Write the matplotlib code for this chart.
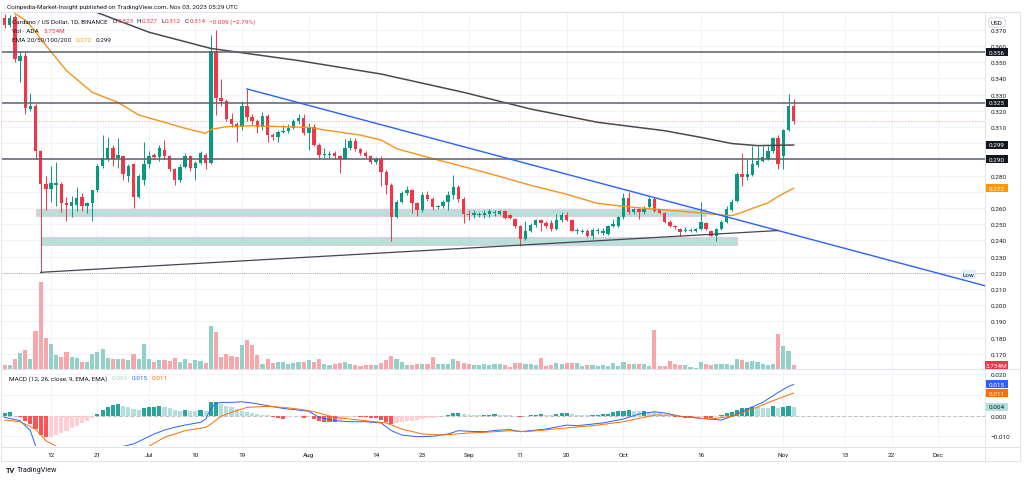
import numpy as np
import pandas as pd
import matplotlib
matplotlib.use("Agg")
import matplotlib.pyplot as plt
import matplotlib.dates as mdates
from matplotlib.patches import Rectangle
from matplotlib.lines import Line2D
from matplotlib.ticker import FixedLocator, FuncFormatter
from matplotlib.transforms import blended_transform_factory

plt.rcParams['font.family'] = ['Roboto', 'DejaVu Sans']

# daily candles (open, high, low, close)
jun_ohlc = [
    (0.377, 0.380, 0.371, 0.373), (0.373, 0.379, 0.372, 0.377), (0.378, 0.379, 0.350, 0.352),
    (0.351, 0.357, 0.338, 0.354), (0.354, 0.356, 0.318, 0.322), (0.321, 0.331, 0.320, 0.323),
    (0.323, 0.324, 0.290, 0.295), (0.295, 0.296, 0.220, 0.275), (0.275, 0.280, 0.259, 0.272),
    (0.272, 0.286, 0.264, 0.2755), (0.2745, 0.2886, 0.2614, 0.2755), (0.275, 0.276, 0.2575, 0.263),
    (0.263, 0.267, 0.252, 0.262), (0.261, 0.2675, 0.2545, 0.264), (0.262, 0.273, 0.258, 0.266),
    (0.267, 0.269, 0.258, 0.261), (0.261, 0.264, 0.257, 0.263), (0.263, 0.271, 0.252, 0.271),
    (0.271, 0.287, 0.270, 0.286), (0.286, 0.305, 0.285, 0.291), (0.290, 0.304, 0.289, 0.297),
    (0.297, 0.299, 0.286, 0.290), (0.291, 0.3035, 0.2845, 0.293), (0.292, 0.293, 0.277, 0.281),
    (0.280, 0.287, 0.276, 0.286), (0.287, 0.288, 0.260, 0.267), (0.267, 0.281, 0.266, 0.280),
    (0.2775, 0.301, 0.2745, 0.287),
]
jul_ohlc = [
    (0.287, 0.295, 0.285, 0.292), (0.293, 0.294, 0.290, 0.2915), (0.2915, 0.299, 0.289, 0.297),
    (0.296, 0.302, 0.290, 0.292), (0.292, 0.293, 0.283, 0.284), (0.284, 0.285, 0.274, 0.277),
    (0.277, 0.287, 0.276, 0.2855), (0.2855, 0.294, 0.285, 0.292), (0.292, 0.293, 0.283, 0.285),
    (0.285, 0.289, 0.2775, 0.288), (0.288, 0.295, 0.287, 0.294), (0.293, 0.294, 0.284, 0.288),
    (0.288, 0.367, 0.287, 0.357), (0.357, 0.370, 0.3175, 0.328), (0.328, 0.3395, 0.323, 0.326),
    (0.326, 0.327, 0.314, 0.315), (0.315, 0.3185, 0.310, 0.312), (0.312, 0.313, 0.301, 0.310),
    (0.310, 0.326, 0.308, 0.323), (0.323, 0.3335, 0.314, 0.316), (0.316, 0.318, 0.311, 0.3135),
    (0.3135, 0.315, 0.306, 0.310), (0.310, 0.319, 0.308, 0.317), (0.317, 0.318, 0.301, 0.305),
    (0.305, 0.306, 0.302, 0.304), (0.304, 0.308, 0.301, 0.307), (0.307, 0.3115, 0.306, 0.3075),
    (0.3075, 0.312, 0.306, 0.3095), (0.3095, 0.315, 0.309, 0.3135), (0.3135, 0.318, 0.312, 0.3155),
    (0.3155, 0.318, 0.305, 0.3065),
]
aug_ohlc = [
    (0.3065, 0.3125, 0.2955, 0.3095), (0.310, 0.312, 0.298, 0.299), (0.299, 0.300, 0.290, 0.2925),
    (0.2925, 0.297, 0.291, 0.2935), (0.2925, 0.295, 0.291, 0.2935), (0.294, 0.295, 0.290, 0.292),
    (0.292, 0.293, 0.2815, 0.2905), (0.2905, 0.3025, 0.290, 0.297), (0.297, 0.303, 0.296, 0.3015),
    (0.3015, 0.303, 0.295, 0.2965), (0.2965, 0.297, 0.293, 0.294), (0.294, 0.295, 0.291, 0.292),
    (0.292, 0.293, 0.287, 0.2885), (0.2885, 0.2915, 0.287, 0.2905), (0.2905, 0.292, 0.2738, 0.282),
    (0.282, 0.2835, 0.2685, 0.274), (0.274, 0.2755, 0.2395, 0.2545), (0.2545, 0.265, 0.254, 0.264),
    (0.264, 0.2705, 0.263, 0.2695), (0.2695, 0.2735, 0.268, 0.271), (0.271, 0.272, 0.257, 0.263),
    (0.263, 0.264, 0.255, 0.2585), (0.2585, 0.270, 0.2575, 0.268), (0.268, 0.2705, 0.2645, 0.2655),
    (0.2655, 0.2665, 0.259, 0.2605), (0.2605, 0.262, 0.2595, 0.261), (0.261, 0.265, 0.260, 0.2635),
    (0.2635, 0.2705, 0.259, 0.268), (0.268, 0.2805, 0.2655, 0.273), (0.273, 0.274, 0.264, 0.2655),
    (0.2655, 0.267, 0.2505, 0.2565),
]
sep_ohlc = [
    (0.2565, 0.2585, 0.2525, 0.2555), (0.2555, 0.2585, 0.254, 0.257), (0.2558, 0.2575, 0.2545, 0.2562),
    (0.2555, 0.2585, 0.254, 0.257), (0.256, 0.2595, 0.2545, 0.258), (0.2572, 0.259, 0.255, 0.2578),
    (0.2565, 0.259, 0.2555, 0.258), (0.258, 0.2585, 0.2535, 0.254), (0.2555, 0.2565, 0.2535, 0.254),
    (0.253, 0.254, 0.2475, 0.249), (0.249, 0.2495, 0.2365, 0.241), (0.241, 0.252, 0.2405, 0.246),
    (0.246, 0.251, 0.245, 0.2495), (0.2495, 0.2535, 0.2485, 0.2525), (0.2525, 0.2535, 0.246, 0.2505),
    (0.251, 0.252, 0.2475, 0.249), (0.251, 0.2525, 0.246, 0.247), (0.247, 0.2565, 0.2465, 0.2525),
    (0.2525, 0.2575, 0.2515, 0.2555), (0.2555, 0.2575, 0.252, 0.2525), (0.2525, 0.253, 0.2455, 0.246),
    (0.2458, 0.2475, 0.244, 0.2462), (0.2453, 0.247, 0.2445, 0.2457), (0.246, 0.2468, 0.242, 0.243),
    (0.243, 0.2475, 0.241, 0.2465), (0.2458, 0.2478, 0.244, 0.2462), (0.2445, 0.2475, 0.2435, 0.2455),
    (0.244, 0.2495, 0.2435, 0.249), (0.249, 0.2535, 0.248, 0.2503), (0.249, 0.255, 0.2485, 0.2542),
]
oct_ohlc = [
    (0.2542, 0.2695, 0.2535, 0.266), (0.266, 0.2697, 0.2565, 0.2576), (0.2576, 0.260, 0.256, 0.2593),
    (0.2593, 0.260, 0.2532, 0.2576), (0.2576, 0.261, 0.2565, 0.2593), (0.2604, 0.2666, 0.2595, 0.2656),
    (0.2656, 0.2666, 0.2575, 0.2584), (0.2587, 0.2595, 0.256, 0.2569), (0.2569, 0.2575, 0.251, 0.2515),
    (0.2512, 0.2525, 0.2485, 0.2491), (0.2491, 0.2497, 0.247, 0.2481), (0.247, 0.2478, 0.2429, 0.2454),
    (0.2456, 0.2485, 0.245, 0.2463), (0.2456, 0.2475, 0.245, 0.2467), (0.2458, 0.2478, 0.2452, 0.2469),
    (0.247, 0.2639, 0.2465, 0.2515), (0.2506, 0.2515, 0.2465, 0.247), (0.246, 0.2465, 0.2425, 0.2429),
    (0.2429, 0.2475, 0.2395, 0.247), (0.247, 0.2525, 0.2465, 0.2512), (0.2512, 0.2615, 0.2505, 0.2594),
    (0.259, 0.2655, 0.258, 0.2639), (0.2645, 0.282, 0.2635, 0.281), (0.281, 0.294, 0.2738, 0.279),
    (0.279, 0.2902, 0.2775, 0.281), (0.2806, 0.2985, 0.2795, 0.2872), (0.2867, 0.2985, 0.2855, 0.2892),
    (0.2892, 0.2985, 0.2885, 0.2916), (0.2902, 0.2985, 0.2895, 0.2954), (0.2954, 0.304, 0.294, 0.303),
    (0.303, 0.305, 0.2838, 0.2872),
]
nov_ohlc = [
    (0.2923, 0.3085, 0.2838, 0.3081), (0.3081, 0.3304, 0.3075, 0.3228), (0.323, 0.327, 0.312, 0.314),
]

# volume, in the chart's bar-height units (last bar = 3.754M)
volume = [
    10, 12, 30, 48, 58, 30, 115, 267, 93, 77, 43, 35, 50, 37, 33, 20, 20, 45, 50, 60,
    33, 30, 30, 28, 27, 45, 28, 75,
    28, 20, 25, 25, 22, 33, 20, 28, 18, 27, 22, 18, 132, 113, 37, 45, 40, 35, 72, 87,
    73, 43, 15, 30, 18, 19, 19, 14, 18, 19, 20,
    25, 20, 30, 13, 12, 15, 18, 19, 14, 10, 8, 10, 10, 10, 17, 25, 38, 28, 20, 11,
    10, 14, 13, 14, 37, 13, 13, 15, 28, 22, 18,
    15, 10, 10, 15, 12, 13, 15, 10, 5, 18, 18, 13, 13, 12, 33, 8, 10, 17, 13, 17,
    17, 17, 8, 10, 12, 8, 12, 8, 18, 8,
    20, 15, 15, 15, 13, 8, 120, 8, 8, 23, 13, 10, 10, 5, 3, 20, 15, 10, 13, 13,
    13, 10, 30, 27, 20, 23, 20, 13, 10, 15, 107,
    70, 53, 10,
]

# MACD histogram per day
macd_hist = [
    0.0012, 0.0019, -0.0003, -0.0008, -0.0024, -0.0040, -0.0064, -0.0093, -0.0104, -0.0101,
    -0.0094, -0.0083, -0.0072, -0.0061, -0.0048, -0.0037, -0.0026, -0.0013, 0.0008, 0.0029,
    0.0043, 0.0051, 0.0056, 0.0048, 0.0040, 0.0032, 0.0029, 0.0035,
    0.0040, 0.0043, 0.0048, 0.0040, 0.0035, 0.0029, 0.0024, 0.0026, 0.0024, 0.0022,
    0.0026, 0.0022, 0.0064, 0.0067, 0.0056, 0.0048, 0.0040, 0.0032, 0.0024, 0.0016,
    0.0013, 0.0008, 0.0005, 0.0002, -0.0008, -0.0013, -0.0014, -0.0008, -0.0003, -0.0002, -0.0010,
    -0.0003, -0.0016, -0.0024, -0.0029, -0.0030, -0.0032, -0.0024, -0.0013, -0.0005, -0.0003,
    -0.0004, -0.0005, -0.0010, -0.0013, -0.0021, -0.0032, -0.0040, -0.0035, -0.0032, -0.0027,
    -0.0024, -0.0021, -0.0016, -0.0013, -0.0011, -0.0008, -0.0003, 0.0003, 0.0011, 0.0013, 0.0006,
    0.0005, 0.0003, 0.0002, 0.0002, 0.0005, 0.0006, 0.0005, 0.0003, 0.0001, -0.0003,
    -0.0005, -0.0002, 0.0003, 0.0005, 0.0006, 0.0005, 0.0004, 0.0008, 0.0011, 0.0013,
    0.0008, 0.0005, 0.0004, 0.0002, 0.0003, 0.0005, 0.0006, 0.0010, 0.0016, 0.0021,
    0.0024, 0.0026, 0.0022, 0.0021, 0.0024, 0.0019, 0.0016, 0.0011, 0.0005, -0.0003,
    -0.0006, -0.0008, -0.0009, -0.0010, -0.0008, -0.0006, -0.0010, -0.0011, -0.0006, 0.0002,
    0.0011, 0.0019, 0.0027, 0.0035, 0.0038, 0.0042, 0.0040, 0.0039, 0.0038, 0.0045, 0.0035,
    0.0040, 0.0045, 0.0042,
]

macd_dates = ['06-03', '06-06', '06-08', '06-09', '06-10', '06-12', '06-15', '06-18', '06-21', '06-24',
              '06-26', '06-28', '06-30', '07-02', '07-04', '07-06', '07-08', '07-11', '07-12', '07-13',
              '07-14', '07-15', '07-17', '07-19', '07-21', '07-24', '07-27', '07-30', '08-01', '08-03',
              '08-06', '08-09', '08-12', '08-15', '08-17', '08-19', '08-22', '08-25', '08-28', '08-30',
              '09-01', '09-04', '09-07', '09-09', '09-11', '09-16', '09-20', '09-22', '09-27', '10-01',
              '10-04', '10-07', '10-09', '10-12', '10-16', '10-20', '10-22', '10-25', '10-28', '10-31',
              '11-02', '11-03']
macd_vals = [-0.0008, -0.0024, -0.0072, -0.0144, -0.020, -0.027, -0.028, -0.024, -0.019, -0.016,
             -0.0147, -0.0136, -0.0112, -0.0088, -0.0069, -0.0056, -0.0045, -0.0032, -0.0016, 0.0035,
             0.0058, 0.0064, 0.0064, 0.0067, 0.0061, 0.0048, 0.0035, 0.0027, 0.0021, -0.0008,
             -0.0024, -0.0029, -0.0029, -0.0035, -0.0072, -0.0093, -0.0101, -0.0099, -0.0088, -0.0072,
             -0.0075, -0.0077, -0.0069, -0.0067, -0.0077, -0.0064, -0.0045, -0.0048, -0.0035, -0.0016,
             0.0008, 0.0019, 0.0013, -0.0003, -0.0013, -0.0021, -0.0003, 0.0032, 0.0064, 0.0112,
             0.0141, 0.0150]

signal_dates = ['06-03', '06-06', '06-09', '06-11', '06-13', '06-16', '06-20', '06-24', '06-28', '07-01',
                '07-04', '07-08', '07-12', '07-13', '07-15', '07-17', '07-20', '07-24', '07-27', '07-30',
                '08-02', '08-06', '08-09', '08-12', '08-16', '08-19', '08-23', '08-27', '09-01', '09-04',
                '09-09', '09-12', '09-19', '09-25', '10-01', '10-07', '10-10', '10-14', '10-18', '10-22',
                '10-26', '10-30', '11-03']
signal_vals = [-0.0021, -0.0029, -0.0064, -0.0120, -0.0147, -0.019, -0.021, -0.021, -0.018, -0.0147,
               -0.0104, -0.0072, -0.0056, -0.0040, -0.0003, 0.0016, 0.0040, 0.0045, 0.0040, 0.0032,
               0.0019, -0.0008, -0.0016, -0.0024, -0.0035, -0.0064, -0.0088, -0.0093, -0.0083, -0.0080,
               -0.0072, -0.0077, -0.0061, -0.0048, -0.0029, 0.0003, 0.0003, -0.0008, -0.0016, -0.0003,
               0.0032, 0.0072, 0.0109]

ema50_dates = ['06-05', '06-07', '06-09', '06-10', '06-15', '06-20', '06-25', '06-29', '07-04', '07-08',
               '07-12', '07-13', '07-16', '07-21', '07-27', '08-01', '08-05', '08-11', '08-15', '08-18',
               '08-25', '08-31', '09-07', '09-13', '09-20', '09-26', '10-03', '10-09', '10-16', '10-19',
               '10-22', '10-24', '10-26', '10-29', '10-31', '11-03']
ema50_vals = [0.380, 0.376, 0.369, 0.3643, 0.3448, 0.3314, 0.3252, 0.3174, 0.3129, 0.3092,
              0.3061, 0.3085, 0.3102, 0.3108, 0.3102, 0.3098, 0.3077, 0.3050, 0.3020, 0.2966,
              0.2905, 0.2855, 0.2795, 0.2740, 0.2685, 0.2628, 0.2604, 0.2588, 0.2570, 0.2560,
              0.2553, 0.2573, 0.2598, 0.2631, 0.2672, 0.2722]

ema200_dates = ['06-19', '07-01', '07-13', '07-30', '08-15', '08-31', '09-13', '09-26', '10-09',
                '10-16', '10-22', '10-27', '11-03']
ema200_vals = [0.383, 0.3685, 0.3585, 0.351, 0.3427, 0.3314, 0.3211, 0.3129, 0.3077,
               0.3036, 0.2998, 0.2985, 0.2989]

levels = [0.356, 0.325, 0.290]
zone_start = ['06-09', '06-10']
zone_end = ['10-17', '10-23']
zone_low = [0.2553, 0.2372]
zone_high = [0.2594, 0.2419]
resist_dates, resist_vals = ['07-20', '12-10'], [0.3335, 0.2121]
support_dates, support_vals = ['06-10', '10-31'], [0.2203, 0.2461]

tick_dates = ['06-12', '06-21', '07-01', '07-10', '07-19', '08-01', '08-14', '08-23', '09-01',
              '09-11', '09-20', '10-01', '10-16', '11-01', '11-13', '11-22', '12-01']
tick_labels = ['12', '21', 'Jul', '10', '19', 'Aug', '14', '23', 'Sep',
               '11', '20', 'Oct', '16', 'Nov', '13', '22', 'Dec']

# price labels that sit under a value tag on the axis
hidden_price_labels = [0.270, 0.290, 0.300]
hidden_macd_labels = [0.010]


def dn(md):
    return mdates.date2num(pd.to_datetime(['2023-' + d for d in md]))


UP, DOWN = '#089981', '#f23645'
TXT = '#131722'
FS = 4.6
W_PX, H_PX = 1024, 481


def fx(px):
    return px / W_PX


def fy(py):
    return 1 - py / H_PX


dates = pd.date_range('2023-06-03', '2023-11-03', freq='D')
x = mdates.date2num(dates)
ohlc = np.array(jun_ohlc + jul_ohlc + aug_ohlc + sep_ohlc + oct_ohlc + nov_ohlc)
o, h, l, c = ohlc.T
up = c >= o

fig = plt.figure(figsize=(10.24, 4.81), dpi=100)
fig.patch.set_facecolor('white')

L, R = fx(2), fx(985)
ax = fig.add_axes([L, fy(369.5), R - L, fy(13.5) - fy(369.5)])
axv = fig.add_axes([L, fy(369.5), R - L, fy(283) - fy(369.5)], sharex=ax)
axm = fig.add_axes([L, fy(447), R - L, fy(370) - fy(447)], sharex=ax)
ax.set_zorder(1)
axv.set_zorder(2)
axv.patch.set_visible(False)

x0 = mdates.date2num(pd.Timestamp('2023-06-12'))
ax.set_xlim(x0 - 9.5, x0 + 181.1)
ax.set_ylim(0.16093, 0.38068)
axv.set_ylim(0, 267)
axm.set_ylim(-0.01457, 0.02245)

for a in (ax, axv, axm):
    for s in a.spines.values():
        s.set_visible(False)
    a.tick_params(length=0)
    a.xaxis.set_major_locator(FixedLocator(dn(tick_dates)))


def label_fmt(hidden):
    def f(v, p):
        if any(abs(v - hv) < 1e-6 for hv in hidden):
            return ''
        return f'{v:.3f}'.replace('-', '\u2212')
    return FuncFormatter(f)


# grid and axis labels
ax.yaxis.set_major_locator(FixedLocator(np.arange(0.17, 0.375, 0.01)))
ax.yaxis.set_major_formatter(label_fmt(hidden_price_labels))
ax.grid(True, color='#f0f3fa', lw=0.8)
ax.set_axisbelow(True)
ax.yaxis.tick_right()
ax.tick_params(axis='y', labelsize=FS, labelcolor=TXT, pad=4)
ax.tick_params(axis='x', labelbottom=False)
axv.tick_params(labelbottom=False, labelleft=False, left=False)
axv.set_yticks([])

axm.yaxis.set_major_locator(FixedLocator([0.02, 0.01, 0.0, -0.01]))
axm.yaxis.set_major_formatter(label_fmt(hidden_macd_labels))
axm.yaxis.tick_right()
axm.grid(True, color='#f0f3fa', lw=0.8)
axm.set_axisbelow(True)
axm.tick_params(axis='y', labelsize=FS, labelcolor=TXT, pad=4)
axm.set_xticklabels(tick_labels)
axm.tick_params(axis='x', labelsize=FS, labelcolor=TXT, pad=4)

# zones
for s, e, lo, hi in zip(zone_start, zone_end, zone_low, zone_high):
    xs, xe = dn([s, e])
    ax.add_patch(Rectangle((xs, lo), xe - xs, hi - lo, fc='#b7e0d8', ec='#e2cde0', lw=0.8, zorder=1.5))

# horizontal levels, low marker, last price
for lv in levels:
    ax.axhline(lv, color='#5d606b', lw=1.1, zorder=5)
ax.axhline(l.min(), color='#9598a1', lw=0.6, ls=(0, (1, 1.5)), zorder=2)
ax.axhline(c[-1], color='#f23645', lw=0.5, ls=(0, (2, 2)), alpha=0.55, zorder=2)

# candles
col = np.where(up, UP, DOWN)
ax.vlines(x, l, h, colors=col, lw=0.7, zorder=3)
ax.bar(x, np.maximum(np.abs(c - o), 0.0005), bottom=np.minimum(o, c), width=0.66,
       color=col, lw=0, zorder=3)

# EMAs
ax.plot(dn(ema50_dates), ema50_vals, color='#f7931a', lw=1.0, zorder=4)
ax.plot(dn(ema200_dates), ema200_vals, color='#4a4a4a', lw=1.1, zorder=4)

# trend lines
ax.plot(dn(resist_dates), resist_vals, color='#2962ff', lw=1.0, zorder=5)
ax.plot(dn(support_dates), support_vals, color='#434651', lw=0.9, zorder=5)

# volume
axv.bar(x, volume, width=0.8, color=np.where(up, '#92d1c7', '#f7a6a9'), lw=0)

# MACD
hist = np.array(macd_hist)
prev = np.r_[hist[0], hist[:-1]]
hcol = np.where(hist >= 0, np.where(hist >= prev, '#26a69a', '#b2dfdb'),
                np.where(hist < prev, '#ff5252', '#ffcdd2'))
axm.bar(x, hist, width=0.8, color=hcol, lw=0, zorder=2)
axm.axhline(0, color='#b2b5be', lw=0.6, ls=(0, (4, 3)), zorder=1)
axm.plot(dn(macd_dates), macd_vals, color='#2962ff', lw=0.7, zorder=3)
axm.plot(dn(signal_dates), signal_vals, color='#ff6d00', lw=0.7, zorder=3)


def tag(a, v, label, fc, tc='white', hpx=8.0, wpx=23.0):
    y0, y1 = a.get_ylim()
    ah = a.get_position().height * H_PX
    aw = a.get_position().width * W_PX
    dv = (y1 - y0) * hpx / ah
    tr = blended_transform_factory(a.transAxes, a.transData)
    a.add_patch(Rectangle((1.0, v - dv / 2), wpx / aw, dv, transform=tr, fc=fc, ec='none',
                          clip_on=False, zorder=20))
    a.text(1.0 + wpx / aw / 2, v, label, transform=tr, ha='center', va='center', fontsize=FS,
           color=tc, clip_on=False, zorder=21)


for lv in levels:
    tag(ax, lv, f'{lv:.3f}', '#131722')
tag(ax, ema200_vals[-1], f'{ema200_vals[-1]:.3f}', '#131722')
tag(ax, ema50_vals[-1], f'{ema50_vals[-1]:.3f}', '#ff9800')
tag(axv, volume[-1], '3.754M', '#f23645')
tag(axm, macd_vals[-1], f'{macd_vals[-1]:.3f}', '#2962ff')
tag(axm, signal_vals[-1], f'{signal_vals[-1]:.3f}', '#ff6d00')
tag(axm, macd_hist[-1], f'{macd_hist[-1]:.3f}', '#b2dfdb', tc=TXT)

ax.text(0.9835, l.min() - 0.0011, 'Low', transform=blended_transform_factory(ax.transAxes, ax.transData),
        ha='center', va='center', fontsize=FS, color=TXT, zorder=6,
        bbox=dict(boxstyle='square,pad=0.25', fc='#e3effd', ec='none'))

# frame and pane separators
frame = '#e0e3eb'
for (xa, ya, xb, yb) in [(1, 13, 1020, 13), (1, 462, 1020, 462), (1, 13, 1, 462), (1020, 13, 1020, 462),
                         (1, 369.8, 1020, 369.8), (1, 447.5, 1020, 447.5), (985, 13, 985, 462)]:
    fig.add_artist(Line2D([fx(xa), fx(xb)], [fy(ya), fy(yb)], color=frame, lw=0.7))

fig.text(fx(997), fy(23.5), 'USD', fontsize=FS, color=TXT, ha='center', va='center',
         bbox=dict(boxstyle='round,pad=0.35', fc='white', ec='#d1d4dc', lw=0.6))

fig.text(fx(7), fy(7), 'Coinpedia-Market-Insight published on TradingView.com, Nov 03, 2023 05:29 UTC',
         fontsize=FS, color=TXT, va='center')


def legend_line(x_px, y_px, parts):
    prev = None
    for txt, color, gap in parts:
        if prev is None:
            prev = fig.text(fx(x_px), fy(y_px), txt, color=color, fontsize=FS, va='center', zorder=30)
        else:
            prev = ax.annotate(txt, xy=(1, 0.5), xycoords=prev, xytext=(gap, 0),
                               textcoords='offset points', va='center', ha='left', color=color,
                               fontsize=FS, annotation_clip=False, zorder=30)


red = '#f23645'
legend_line(12.5, 21.7, [('Cardano / US Dollar, 1D, BINANCE', TXT, 0), ('O', TXT, 3), ('0.323', red, 0.3),
                         ('H', TXT, 2.5), ('0.327', red, 0.3), ('L', TXT, 2.5), ('0.312', red, 0.3),
                         ('C', TXT, 2.5), ('0.314', red, 0.3), ('\u22120.009 (\u22122.79%)', red, 2.5)])
legend_line(12.5, 31.5, [('Vol \u00b7 ADA', TXT, 0), ('3.754M', red, 3)])
legend_line(12.5, 40.5, [('EMA 20/50/100/200', TXT, 0), ('0.272', '#ff9800', 3), ('0.299', TXT, 3)])
legend_line(9, 379, [('MACD (12, 26, close, 9, EMA, EMA)', TXT, 0), ('0.004', '#a5d6cf', 3),
                     ('0.015', '#2962ff', 3), ('0.011', '#ff6d00', 3)])

fig.text(fx(6), fy(471), 'TV', fontsize=5.2, fontweight='bold', color=TXT, va='center')
fig.text(fx(17), fy(471), 'TradingView', fontsize=5.2, color=TXT, va='center')

fig.savefig('out.png', dpi=100, facecolor='white')
